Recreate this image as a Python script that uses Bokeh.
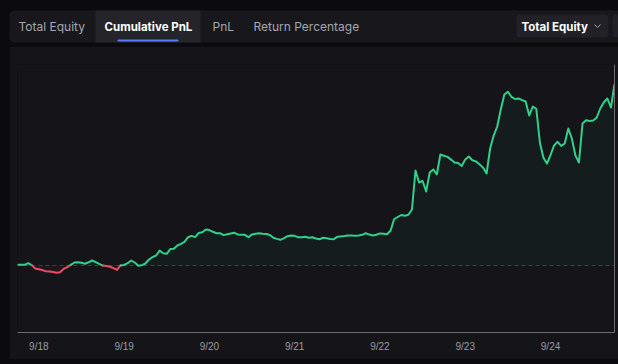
import numpy as np
import pandas as pd
from bokeh.plotting import figure
from bokeh.layouts import column, row
from bokeh.models import (Range1d, FixedTicker, CustomJSTickFormatter, Span,
                          BoxAnnotation, Spacer)
from bokeh.core.properties import value
from bokeh.embed import file_html
from bokeh.resources import INLINE

# ---------------- data ----------------
tabs = ["Total Equity", "Cumulative PnL", "PnL", "Return Percentage"]
active_tab = "Cumulative PnL"
dropdown_label = "Total Equity"

start_time = "2024-09-17 18:00"
tick_dates = ["2024-09-18", "2024-09-19", "2024-09-20", "2024-09-21",
              "2024-09-22", "2024-09-23", "2024-09-24"]

# hourly cumulative PnL (arbitrary units)
pnl = [
    0.7, 0.7, 0.7, 2.3, 0.4, -3.1, -3.8, -4.6, -5.7, -6.1,
    -6.5, -7.2, -6.8, -3.4, -1.7, 0.6, 3.0, 3.3, 2.7, 1.8,
    3.2, 5.0, 3.4, 1.6, -0.1, -0.6, -1.2, -2.6, -4.3, 0.1,
    0.5, 2.3, 5.0, 3.0, -0.3, 0.3, 2.0, 6.0, 8.3, 10.0,
    14.9, 12.2, 11.7, 16.5, 16.7, 20.0, 21.7, 23.7, 28.3, 29.6,
    28.4, 32.6, 33.2, 36.0, 35.4, 33.7, 32.3, 32.3, 30.4, 31.3,
    32.0, 32.7, 31.1, 30.7, 30.7, 28.3, 31.1, 31.8, 32.3, 31.8,
    31.5, 30.5, 27.7, 26.6, 25.7, 27.4, 29.3, 30.0, 29.7, 28.2,
    28.3, 28.7, 27.7, 28.2, 27.0, 26.3, 27.7, 27.3, 26.6, 26.3,
    28.7, 29.1, 29.4, 30.1, 30.1, 29.7, 29.9, 30.7, 32.3, 30.9,
    30.1, 30.7, 32.1, 31.8, 31.3, 35.0, 46.5, 48.5, 50.5, 49.8,
    50.8, 56.0, 95.0, 83.0, 84.5, 74.0, 93.0, 96.0, 91.0, 111.0,
    109.8, 108.6, 105.9, 103.0, 102.4, 99.5, 106.1, 109.0, 105.3, 104.1,
    101.3, 97.9, 92.0, 117.0, 130.0, 139.0, 156.0, 171.0, 173.8, 168.7,
    166.5, 167.1, 165.4, 164.0, 150.0, 159.0, 156.7, 123.0, 107.7, 101.9,
    110.5, 120.1, 123.7, 119.6, 122.0, 137.0, 127.0, 110.0, 103.0, 142.0,
    145.2, 144.5, 145.0, 148.0, 157.0, 163.3, 167.0, 158.0, 181.0,
]

# ---------------- colours ----------------
PAGE_BG = "#0b0b0f"
BAR_BG = "#17171c"
ACTIVE_BG = "#24242a"
PANEL_BG = "#141419"
GREEN = "#2fd18b"
RED = "#f04a64"
AXIS = "#6b6b70"

times = pd.date_range(start_time, periods=len(pnl), freq="h")
vals = np.array(pnl, dtype=float)

# ---------------- header (tabs) ----------------
W = 618
HH = 46
header = figure(width=W, height=HH, x_range=Range1d(0, W), y_range=Range1d(0, HH),
                output_backend="svg", toolbar_location=None,
                x_axis_location=None, y_axis_location=None, min_border=0)
header.background_fill_color = PAGE_BG
header.border_fill_color = PAGE_BG
header.outline_line_color = None
header.grid.visible = False

def box(l, r, b, t, color, radius=0):
    header.add_layout(BoxAnnotation(left=l, right=r, bottom=b, top=t,
                                    fill_color=color, fill_alpha=1.0,
                                    line_color=None, border_radius=radius,
                                    level="underlay"))

box(9, 650, 4, 36, BAR_BG, 5)
box(95, 200, 4, 36, ACTIVE_BG, 0)
box(117, 178, 5, 7, "#5b7cfa", 1)
box(516, 608, 9, 32, "#212127", 4)
box(612, 650, 9, 32, "#212127", 4)

tab_x = [18, 104, 212, 253]
inactive = [t for t in tabs if t != active_tab]
header.text(x=[tab_x[i] for i, t in enumerate(tabs) if t != active_tab], y=[20] * len(inactive),
            text=inactive, text_font=value("Inter"), text_font_size="12px",
            text_color="#a6a6ae", text_baseline="middle", text_align="left")
header.text(x=[tab_x[tabs.index(active_tab)]], y=[20], text=[active_tab],
            text_font=value("Inter"), text_font_size="11.5px", text_font_style="bold",
            text_color="#ffffff", text_baseline="middle", text_align="left")
header.text(x=[521], y=[20], text=[dropdown_label], text_font=value("Inter"),
            text_font_size="11.5px", text_font_style="bold", text_color="#ffffff",
            text_baseline="middle", text_align="left")
header.line(x=[594, 597, 600], y=[22, 19, 22], line_color="#a0a0a8", line_width=1)

# ---------------- chart ----------------
CW = 609
CH = 313
p = figure(width=CW, height=CH, x_axis_type="datetime", y_axis_location="right",
           x_range=Range1d(times[0], times[-1]), y_range=Range1d(-67, 201),
           output_backend="svg", toolbar_location=None,
           min_border_left=8, min_border_right=4, min_border_top=18, min_border_bottom=27)
p.background_fill_color = PANEL_BG
p.border_fill_color = PANEL_BG
p.outline_line_color = None
p.grid.visible = False

# fills
p.varea(x=times, y1=0, y2=np.maximum(vals, 0), fill_color=GREEN, fill_alpha=0.045)
p.varea(x=times, y1=0, y2=np.minimum(vals, 0), fill_color=RED, fill_alpha=0.05)

p.add_layout(Span(location=0, dimension="width", line_color="#3e3e46",
                  line_dash="4 3", line_width=1, level="underlay"))

# colour runs by sign
xs, ys, cs = [], [], []
cur_x, cur_y, cur_c = [times[0]], [vals[0]], None
for i in range(len(vals) - 1):
    c = GREEN if (vals[i] + vals[i + 1]) / 2 >= 0 else RED
    if cur_c is None:
        cur_c = c
    if c != cur_c:
        xs.append(cur_x); ys.append(cur_y); cs.append(cur_c)
        cur_x, cur_y, cur_c = [times[i]], [vals[i]], c
    cur_x.append(times[i + 1]); cur_y.append(vals[i + 1])
xs.append(cur_x); ys.append(cur_y); cs.append(cur_c)
p.multi_line(xs=xs, ys=ys, line_color=cs, line_width=2, line_join="round", line_cap="round")

# x axis
tick_ms = [pd.Timestamp(d).value // 10**6 for d in tick_dates]
p.xaxis.ticker = FixedTicker(ticks=tick_ms)
p.xaxis.formatter = CustomJSTickFormatter(
    code="const d = new Date(tick); return (d.getUTCMonth()+1) + '/' + d.getUTCDate();")
p.xaxis.axis_line_color = AXIS
p.xaxis.major_tick_line_color = None
p.xaxis.minor_tick_line_color = None
p.xaxis.major_tick_out = 0
p.xaxis.major_tick_in = 0
p.xaxis.minor_tick_out = 0
p.xaxis.major_label_text_font = "Liberation Sans"
p.xaxis.major_label_text_font_size = "10px"
p.xaxis.major_label_text_color = "#9b9ba0"
p.xaxis.major_label_standoff = 8

# right y axis (line only)
p.yaxis.ticker = FixedTicker(ticks=[])
p.yaxis.axis_line_color = AXIS
p.yaxis.major_tick_line_color = None
p.yaxis.minor_tick_line_color = None
p.yaxis.major_tick_out = 0
p.yaxis.minor_tick_out = 0
p.yaxis.major_label_text_font_size = "0px"
p.yaxis.major_label_standoff = 0

layout = column(header, row(Spacer(width=9, height=CH), p, spacing=0), spacing=0)

html = file_html(layout, INLINE, title="Cumulative PnL")
html = html.replace(
    "</head>",
    "<style>html,body{background:%s;margin:0;padding:0;overflow:hidden;}</style></head>" % PAGE_BG, 1)
open("out.html", "w").write(html)
